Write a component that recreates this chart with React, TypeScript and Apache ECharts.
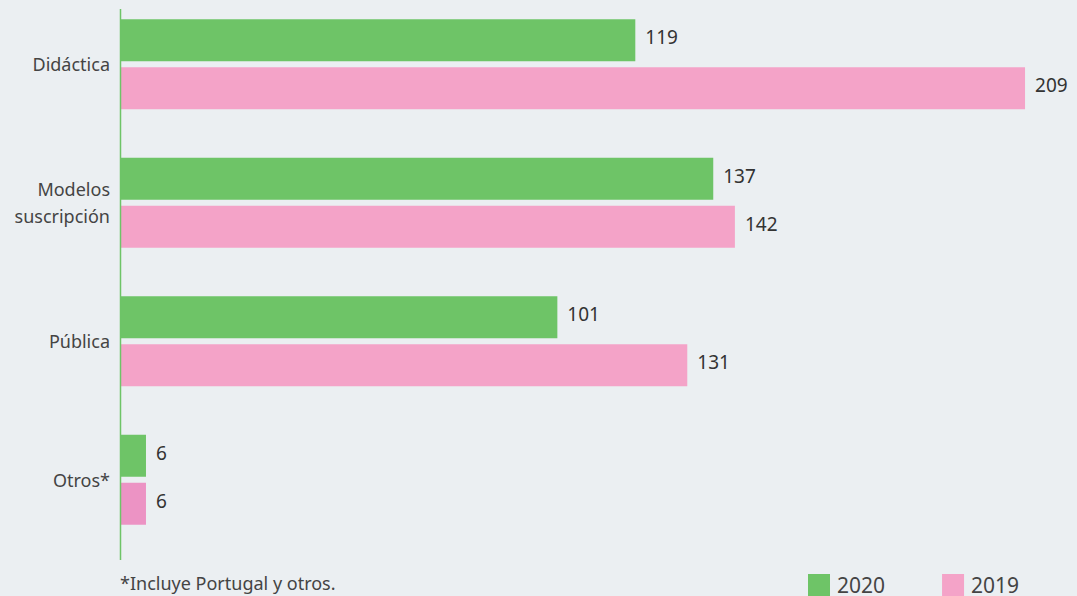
import React, { useEffect, useRef } from "react";
import * as echarts from "echarts";

const categories = ["Didáctica", "Modelos\nsuscripción", "Pública", "Otros*"];
const values2020 = [119, 137, 101, 6];
const values2019 = [209, 142, 131, 6];
const seriesNames = ["2020", "2019"];
const footnote = "*Incluye Portugal y otros.";

const GREEN = "#6ec467";
const PINK = "#f4a3c8";
const PINK_DARK = "#ec93c4";
const FONT = "'Noto Sans', sans-serif";
const SHIFT = 5;

export default function App() {
  const ref = useRef<HTMLDivElement>(null);
  useEffect(() => {
    document.body.style.margin = "0";
    const chart = echarts.init(ref.current!, null, { renderer: "svg" });
    const label = {
      show: true,
      position: "right",
      distance: 10,
      fontSize: 19,
      color: "#333",
      fontFamily: FONT,
      offset: [0, -3],
    };
    chart.setOption({
      animation: false,
      backgroundColor: "#ebeff2",
      textStyle: { fontFamily: FONT },
      grid: { left: 120, top: 0, width: 957, height: 554, containLabel: false },
      title: {
        text: footnote,
        left: 120,
        top: 574 + SHIFT,
        padding: 0,
        textStyle: { fontSize: 18, fontWeight: "normal", color: "#444", fontFamily: FONT },
      },
      legend: {
        data: seriesNames,
        left: 808,
        top: 574 + SHIFT,
        padding: 0,
        itemWidth: 22,
        itemHeight: 22,
        itemGap: 57,
        icon: "rect",
        textStyle: { fontSize: 21, color: "#444", fontFamily: FONT, padding: [0, 0, 0, 2] },
      },
      xAxis: {
        type: "value",
        min: 0,
        max: 221,
        show: false,
      },
      yAxis: {
        type: "category",
        data: categories,
        inverse: true,
        axisLine: { show: false },
        axisTick: { show: false },
        axisLabel: {
          fontSize: 18,
          color: "#444",
          margin: 10,
          lineHeight: 27,
          fontFamily: FONT,
        },
      },
      graphic: [
        {
          type: "line",
          shape: { x1: 120.5, y1: 9 + SHIFT, x2: 120.5, y2: 560 + SHIFT },
          style: { stroke: "#6ec467", lineWidth: 1.5 },
          z: 10,
        },
      ],
      series: [
        {
          name: seriesNames[0],
          type: "bar",
          data: values2020,
          barWidth: 42,
          barGap: "14%",
          itemStyle: { color: GREEN },
          label,
        },
        {
          name: seriesNames[1],
          type: "bar",
          data: values2019.map((v, i) =>
            i === values2019.length - 1 ? { value: v, itemStyle: { color: PINK_DARK } } : v
          ),
          barWidth: 42,
          barGap: "14%",
          itemStyle: { color: PINK },
          label,
        },
      ],
    });
    return () => chart.dispose();
  }, []);
  return (
    <div
      ref={ref}
      style={{ position: "absolute", left: 0, top: -SHIFT, width: 1077, height: 596 + SHIFT }}
    />
  );
}
